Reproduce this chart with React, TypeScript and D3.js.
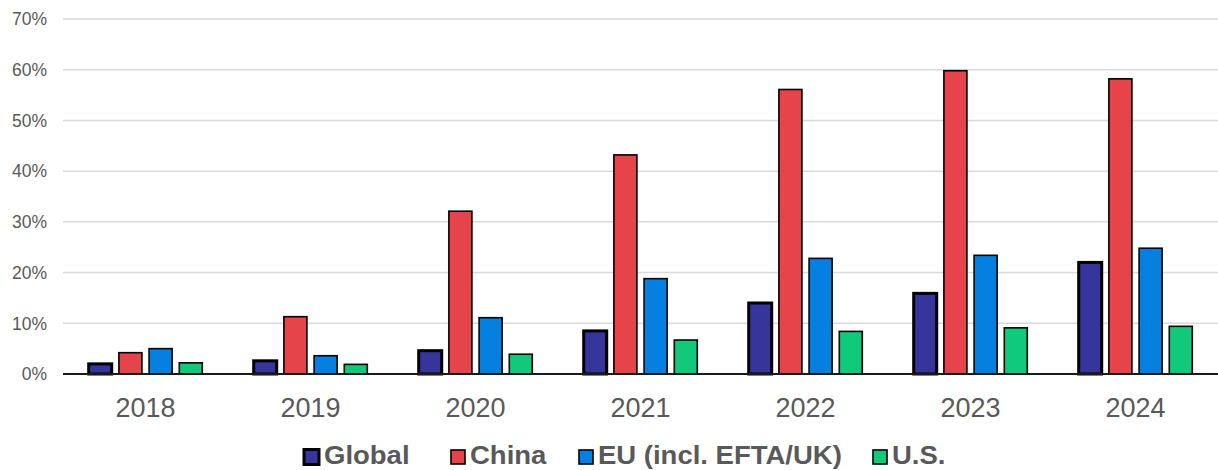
import React from "react";
import * as d3 from "d3";

// Share of sales by region, 2018–2024 (percent)
const years = ["2018", "2019", "2020", "2021", "2022", "2023", "2024"];
const seriesNames = ["Global", "China", "EU (incl. EFTA/UK)", "U.S."];
const globalValues = [2.0, 2.6, 4.6, 8.5, 14.0, 15.9, 22.0];
const chinaValues = [4.2, 11.3, 32.1, 43.2, 56.1, 59.8, 58.2];
const euValues = [5.0, 3.6, 11.1, 18.8, 22.8, 23.4, 24.8];
const usValues = [2.2, 1.9, 3.9, 6.7, 8.4, 9.1, 9.4];
const yTicks = [0, 10, 20, 30, 40, 50, 60, 70];

const seriesValues = [globalValues, chinaValues, euValues, usValues];
const colors = ["#36359B", "#E6444B", "#0680E0", "#10C97A"];
const strokeWidths = [3, 1.6, 1.6, 1.6];

const W = 1218;
const H = 470;
const left = 63;
const right = 1218;
const top = 19;
const bottom = 374;
const FONT = "'Liberation Sans', Arial, Helvetica, sans-serif";
const TEXT = "#595959";

// legend item anchors (square left edge)
const legendX = [304, 451, 579, 873];

export default function App() {
  const x0 = d3.scaleBand<string>().domain(years).range([left, right]).padding(0);
  const x1 = d3
    .scaleBand<string>()
    .domain(seriesNames)
    .range([-56.8, 56.8])
    .paddingInner(0.238)
    .paddingOuter(0);
  const y = d3.scaleLinear().domain([0, 70]).range([bottom, top]);

  return (
    <div style={{ position: "absolute", left: 0, top: 0 }}>
      <svg width={W} height={H} style={{ display: "block", background: "#fff" }}>
        {yTicks.map((t) => (
          <g key={t}>
            {t > 0 && (
              <line x1={left} x2={right} y1={y(t)} y2={y(t)} stroke="#D9D9D9" strokeWidth={1.5} />
            )}
            <text
              x={47}
              y={y(t)}
              dy="0.36em"
              textAnchor="end"
              fontFamily={FONT}
              fontSize={17.5}
              fill={TEXT}
            >
              {t}%
            </text>
          </g>
        ))}

        {years.map((yr, i) => (
          <g key={yr} transform={`translate(${x0(yr)! + x0.bandwidth() / 2},0)`}>
            {seriesNames.map((s, k) => {
              const v = seriesValues[k][i];
              return (
                <rect
                  key={s}
                  x={x1(s)!}
                  y={y(v)}
                  width={x1.bandwidth()}
                  height={y(0) - y(v)}
                  fill={colors[k]}
                  stroke="#000"
                  strokeWidth={strokeWidths[k]}
                />
              );
            })}
            <text
              x={0}
              y={417}
              textAnchor="middle"
              fontFamily={FONT}
              fontSize={27}
              fill={TEXT}
            >
              {yr}
            </text>
          </g>
        ))}

        <line x1={left} x2={right} y1={y(0)} y2={y(0)} stroke="#1a1a1a" strokeWidth={1.8} />

        {seriesNames.map((s, k) => {
          const sz = k === 0 ? 15 : 14;
          return (
            <g key={s} transform={`translate(${legendX[k]},0)`}>
              <rect
                x={0}
                y={457 - sz / 2}
                width={sz}
                height={sz}
                fill={colors[k]}
                stroke="#000"
                strokeWidth={strokeWidths[k]}
              />
              <text
                transform={`translate(${sz + 5},464) scale(1.1,1)`}
                fontFamily={FONT}
                fontWeight="bold"
                fontSize={25}
                fill={TEXT}
              >
                {s}
              </text>
            </g>
          );
        })}
      </svg>
    </div>
  );
}
